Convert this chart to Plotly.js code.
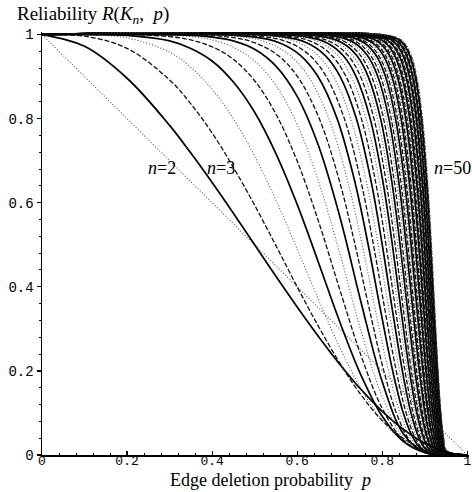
<!DOCTYPE html>
<html><head><meta charset="utf-8">
<script src="https://cdn.plot.ly/plotly-3.0.1.min.js"></script>
<style>html,body{margin:0;padding:0;background:#fff}#chart{width:472px;height:492px}</style>
</head><body><div id="chart"></div>
<script>
// Edge deletion probability grid used for the small complete graphs K2..K9
const P_GRID = [0, 0.1, 0.2, 0.3, 0.35, 0.4, 0.45, 0.5, 0.55, 0.6, 0.65, 0.7, 0.75, 0.8, 0.85, 0.9, 0.95, 1];
const R_K2 = [1, 0.9, 0.8, 0.7, 0.65, 0.6, 0.55, 0.5, 0.45, 0.4, 0.35, 0.3, 0.25, 0.2, 0.15, 0.1, 0.05, 0];
const R_K3 = [1, 0.972, 0.896, 0.784, 0.718, 0.648, 0.575, 0.5, 0.425, 0.352, 0.282, 0.216, 0.156, 0.104, 0.061, 0.028, 0.007, 0];
const R_K4 = [1, 0.996, 0.967, 0.892, 0.835, 0.766, 0.684, 0.594, 0.498, 0.4, 0.306, 0.219, 0.143, 0.082, 0.039, 0.013, 0.002, 0];
const R_K5 = [1, 0.9995, 0.992, 0.958, 0.922, 0.87, 0.8, 0.711, 0.606, 0.49, 0.37, 0.256, 0.158, 0.082, 0.033, 0.008, 0.001, 0];
const R_K6 = [1, 1, 0.998, 0.985, 0.967, 0.937, 0.887, 0.815, 0.717, 0.596, 0.458, 0.317, 0.19, 0.092, 0.032, 0.006, 0, 0];
const R_K7 = [1, 1, 1, 0.995, 0.987, 0.971, 0.941, 0.89, 0.811, 0.699, 0.556, 0.394, 0.237, 0.111, 0.035, 0.006, 0, 0];
const R_K8 = [1, 1, 1, 0.998, 0.995, 0.987, 0.97, 0.937, 0.879, 0.786, 0.651, 0.48, 0.296, 0.139, 0.041, 0.005, 0, 0];
const R_K9 = [1, 1, 1, 0.999, 0.998, 0.994, 0.985, 0.965, 0.925, 0.853, 0.736, 0.568, 0.364, 0.174, 0.05, 0.006, 0, 0];

// Reliability levels read for K10..K50, with the edge deletion probability where each curve reaches them
const LEVELS = [1, 0.995, 0.98, 0.95, 0.9, 0.8, 0.65, 0.5, 0.35, 0.2, 0.1, 0.04, 0.01, 0];
const P_K10 = [0, 0.4297, 0.5012, 0.5553, 0.6009, 0.6519, 0.6998, 0.7361, 0.7690, 0.8037, 0.8332, 0.8610, 0.8900, 1];
const P_K11 = [0, 0.4631, 0.5321, 0.5836, 0.6266, 0.6745, 0.7190, 0.7527, 0.7829, 0.8148, 0.8419, 0.8673, 0.8939, 1];
const P_K12 = [0, 0.4928, 0.5592, 0.6082, 0.6489, 0.6939, 0.7356, 0.7669, 0.7950, 0.8246, 0.8495, 0.8730, 0.8976, 1];
const P_K13 = [0, 0.5193, 0.5831, 0.6299, 0.6684, 0.7109, 0.7500, 0.7793, 0.8055, 0.8330, 0.8563, 0.8781, 0.9010, 1];
const P_K14 = [0, 0.5430, 0.6044, 0.6491, 0.6856, 0.7258, 0.7627, 0.7903, 0.8148, 0.8406, 0.8624, 0.8827, 0.9041, 1];
const P_K15 = [0, 0.5645, 0.6235, 0.6662, 0.7011, 0.7391, 0.7740, 0.8000, 0.8231, 0.8473, 0.8677, 0.8868, 0.9070, 1];
const P_K16 = [0, 0.5839, 0.6407, 0.6815, 0.7148, 0.7510, 0.7842, 0.8087, 0.8306, 0.8534, 0.8727, 0.8907, 0.9096, 1];
const P_K17 = [0, 0.6016, 0.6563, 0.6955, 0.7273, 0.7619, 0.7933, 0.8167, 0.8374, 0.8589, 0.8771, 0.8942, 0.9122, 1];
const P_K18 = [0, 0.6178, 0.6705, 0.7081, 0.7385, 0.7716, 0.8016, 0.8238, 0.8435, 0.8640, 0.8813, 0.8975, 0.9145, 1];
const P_K19 = [0, 0.6327, 0.6835, 0.7197, 0.7489, 0.7805, 0.8091, 0.8303, 0.8491, 0.8686, 0.8852, 0.9005, 0.9168, 1];
const P_K20 = [0, 0.6464, 0.6956, 0.7303, 0.7583, 0.7887, 0.8161, 0.8363, 0.8543, 0.8729, 0.8887, 0.9033, 0.9188, 1];
const P_K21 = [0, 0.6590, 0.7065, 0.7401, 0.7670, 0.7961, 0.8225, 0.8419, 0.8591, 0.8769, 0.8920, 0.9060, 0.9208, 1];
const P_K22 = [0, 0.6707, 0.7167, 0.7491, 0.7751, 0.8031, 0.8284, 0.8470, 0.8634, 0.8806, 0.8950, 0.9084, 0.9226, 1];
const P_K23 = [0, 0.6816, 0.7262, 0.7575, 0.7826, 0.8096, 0.8339, 0.8517, 0.8676, 0.8840, 0.8978, 0.9107, 0.9244, 1];
const P_K24 = [0, 0.6918, 0.7350, 0.7653, 0.7896, 0.8156, 0.8389, 0.8562, 0.8714, 0.8873, 0.9005, 0.9130, 0.9260, 1];
const P_K25 = [0, 0.7013, 0.7432, 0.7726, 0.7960, 0.8211, 0.8437, 0.8603, 0.8750, 0.8902, 0.9030, 0.9149, 0.9276, 1];
const P_K26 = [0, 0.7102, 0.7509, 0.7794, 0.8020, 0.8264, 0.8481, 0.8642, 0.8783, 0.8931, 0.9054, 0.9169, 0.9291, 1];
const P_K27 = [0, 0.7186, 0.7582, 0.7858, 0.8077, 0.8313, 0.8524, 0.8678, 0.8815, 0.8957, 0.9077, 0.9188, 0.9305, 1];
const P_K28 = [0, 0.7265, 0.7650, 0.7917, 0.8130, 0.8358, 0.8563, 0.8713, 0.8845, 0.8982, 0.9097, 0.9205, 0.9319, 1];
const P_K29 = [0, 0.7339, 0.7713, 0.7973, 0.8181, 0.8401, 0.8600, 0.8746, 0.8873, 0.9006, 0.9117, 0.9222, 0.9332, 1];
const P_K30 = [0, 0.7409, 0.7774, 0.8027, 0.8228, 0.8443, 0.8635, 0.8776, 0.8900, 0.9029, 0.9137, 0.9237, 0.9344, 1];
const P_K31 = [0, 0.7475, 0.7831, 0.8078, 0.8273, 0.8482, 0.8668, 0.8805, 0.8925, 0.9050, 0.9155, 0.9252, 0.9356, 1];
const P_K32 = [0, 0.7538, 0.7885, 0.8125, 0.8315, 0.8518, 0.8700, 0.8832, 0.8949, 0.9071, 0.9172, 0.9267, 0.9368, 1];
const P_K33 = [0, 0.7598, 0.7936, 0.8170, 0.8355, 0.8552, 0.8729, 0.8858, 0.8972, 0.9089, 0.9189, 0.9281, 0.9378, 1];
const P_K34 = [0, 0.7654, 0.7984, 0.8213, 0.8393, 0.8585, 0.8757, 0.8883, 0.8994, 0.9108, 0.9205, 0.9294, 0.9389, 1];
const P_K35 = [0, 0.7708, 0.8031, 0.8254, 0.8429, 0.8616, 0.8784, 0.8907, 0.9014, 0.9126, 0.9220, 0.9306, 0.9399, 1];
const P_K36 = [0, 0.7759, 0.8075, 0.8292, 0.8464, 0.8646, 0.8809, 0.8929, 0.9034, 0.9142, 0.9234, 0.9318, 0.9408, 1];
const P_K37 = [0, 0.7808, 0.8116, 0.8329, 0.8497, 0.8675, 0.8833, 0.8950, 0.9053, 0.9158, 0.9248, 0.9330, 0.9418, 1];
const P_K38 = [0, 0.7855, 0.8156, 0.8364, 0.8528, 0.8702, 0.8857, 0.8970, 0.9070, 0.9174, 0.9260, 0.9341, 0.9427, 1];
const P_K39 = [0, 0.7900, 0.8195, 0.8398, 0.8558, 0.8728, 0.8880, 0.8990, 0.9088, 0.9188, 0.9273, 0.9352, 0.9435, 1];
const P_K40 = [0, 0.7942, 0.8231, 0.8430, 0.8586, 0.8753, 0.8901, 0.9009, 0.9104, 0.9202, 0.9285, 0.9362, 0.9444, 1];
const P_K41 = [0, 0.7983, 0.8266, 0.8461, 0.8614, 0.8777, 0.8921, 0.9027, 0.9120, 0.9216, 0.9296, 0.9372, 0.9452, 1];
const P_K42 = [0, 0.8023, 0.8300, 0.8491, 0.8640, 0.8800, 0.8941, 0.9044, 0.9135, 0.9229, 0.9308, 0.9382, 0.9460, 1];
const P_K43 = [0, 0.8060, 0.8332, 0.8519, 0.8665, 0.8822, 0.8960, 0.9061, 0.9150, 0.9242, 0.9319, 0.9390, 0.9467, 1];
const P_K44 = [0, 0.8096, 0.8363, 0.8546, 0.8690, 0.8843, 0.8978, 0.9077, 0.9164, 0.9254, 0.9329, 0.9400, 0.9475, 1];
const P_K45 = [0, 0.8131, 0.8393, 0.8572, 0.8713, 0.8863, 0.8995, 0.9092, 0.9177, 0.9266, 0.9340, 0.9408, 0.9481, 1];
const P_K46 = [0, 0.8165, 0.8421, 0.8597, 0.8735, 0.8882, 0.9012, 0.9107, 0.9190, 0.9277, 0.9349, 0.9416, 0.9488, 1];
const P_K47 = [0, 0.8197, 0.8449, 0.8622, 0.8757, 0.8901, 0.9028, 0.9121, 0.9203, 0.9288, 0.9358, 0.9425, 0.9495, 1];
const P_K48 = [0, 0.8228, 0.8476, 0.8645, 0.8778, 0.8919, 0.9044, 0.9135, 0.9215, 0.9298, 0.9367, 0.9432, 0.9501, 1];
const P_K49 = [0, 0.8258, 0.8501, 0.8668, 0.8798, 0.8936, 0.9059, 0.9149, 0.9227, 0.9308, 0.9376, 0.9439, 0.9507, 1];
const P_K50 = [0, 0.8287, 0.8526, 0.8690, 0.8817, 0.8953, 0.9073, 0.9162, 0.9239, 0.9318, 0.9385, 0.9447, 0.9513, 1];

const SMALL_N = [2, 3, 4, 5, 6, 7, 8, 9];
const SMALL_R = [R_K2, R_K3, R_K4, R_K5, R_K6, R_K7, R_K8, R_K9];
const LARGE_N = [10,11,12,13,14,15,16,17,18,19,20,21,22,23,24,25,26,27,28,29,30,31,32,33,34,35,36,37,38,39,40,41,42,43,44,45,46,47,48,49,50];
const LARGE_P = [P_K10,P_K11,P_K12,P_K13,P_K14,P_K15,P_K16,P_K17,P_K18,P_K19,P_K20,P_K21,P_K22,P_K23,P_K24,P_K25,P_K26,P_K27,P_K28,P_K29,P_K30,P_K31,P_K32,P_K33,P_K34,P_K35,P_K36,P_K37,P_K38,P_K39,P_K40,P_K41,P_K42,P_K43,P_K44,P_K45,P_K46,P_K47,P_K48,P_K49,P_K50];

const LABELS = ['<i>n</i>=2', '<i>n</i>=3', '<i>n</i>=50'];
const LABEL_X = [0.281, 0.42, 0.965];
const LABEL_Y = [0.683, 0.683, 0.683];

function lineStyle(n) {
  const m = n % 3;
  if (m === 0) return {color: '#000', width: 1.7, dash: 'solid', shape: 'spline', smoothing: 1};
  if (m === 1) return {color: '#111', width: 1.3, dash: '5px,2px', shape: 'spline', smoothing: 1};
  return {color: '#555', width: 1.1, dash: '1px,2px', shape: 'spline', smoothing: 1};
}

const traces = [];
LARGE_N.forEach((n, i) => {
  traces.push({type: 'scatter', mode: 'lines', x: LARGE_P[i], y: LEVELS, name: 'n=' + n,
    line: lineStyle(n), hoverinfo: 'skip'});
});
SMALL_N.forEach((n, i) => {
  traces.push({type: 'scatter', mode: 'lines', x: P_GRID, y: SMALL_R[i], name: 'n=' + n,
    line: lineStyle(n), hoverinfo: 'skip'});
});

const serif = 'Liberation Serif, Times New Roman, serif';
const mono = 'Liberation Mono, Courier New, monospace';

const annotations = LABELS.map((t, i) => ({
  text: t, x: LABEL_X[i], y: LABEL_Y[i], xref: 'x', yref: 'y', showarrow: false,
  xanchor: 'center', yanchor: 'middle', font: {family: serif, size: 18, color: '#000'}
}));
annotations.push({
  text: 'Edge deletion probability  <i>p</i>', xref: 'paper', yref: 'paper',
  x: 0.534, y: -0.059, xanchor: 'center', yanchor: 'middle', showarrow: false,
  font: {family: serif, size: 18, color: '#000'}
});

const layout = {
  width: 472, height: 492,
  margin: {l: 42, r: 3.3, t: 31.5, b: 37, pad: 0},
  paper_bgcolor: '#fff', plot_bgcolor: '#fff',
  showlegend: false, hovermode: false,
  title: {
    text: 'Reliability <i>R</i>(<i>K<sub>n</sub></i>,  <i>p</i>)',
    xref: 'container', yref: 'container', x: 0.036, xanchor: 'left', y: 0.972, yanchor: 'middle',
    font: {family: serif, size: 19, color: '#000'}
  },
  xaxis: {
    range: [0, 1.004], showgrid: false, zeroline: false, showline: true, linecolor: '#000', linewidth: 1.5,
    tickmode: 'linear', tick0: 0, dtick: 0.2, ticks: 'inside', ticklen: 4, tickwidth: 1.2, tickcolor: '#000',
    ticklabelstandoff: -7,
    minor: {tickmode: 'linear', tick0: 0, dtick: 0.04, ticks: 'inside', ticklen: 2.5, tickwidth: 1, tickcolor: '#000'},
    tickfont: {family: mono, size: 13, color: '#000'}, fixedrange: true
  },
  yaxis: {
    range: [0, 1.006], showgrid: false, zeroline: false, showline: true, linecolor: '#000', linewidth: 1.5,
    tickmode: 'linear', tick0: 0, dtick: 0.2, ticks: 'outside', ticklen: 4, tickwidth: 1.2, tickcolor: '#000',
    minor: {tickmode: 'linear', tick0: 0, dtick: 0.04, ticks: 'outside', ticklen: 2, tickwidth: 1, tickcolor: '#000'},
    tickfont: {family: mono, size: 14, color: '#000'}, fixedrange: true
  },
  annotations: annotations
};

Plotly.newPlot('chart', traces, layout, {staticPlot: true, displayModeBar: false});
</script>
</body></html>
